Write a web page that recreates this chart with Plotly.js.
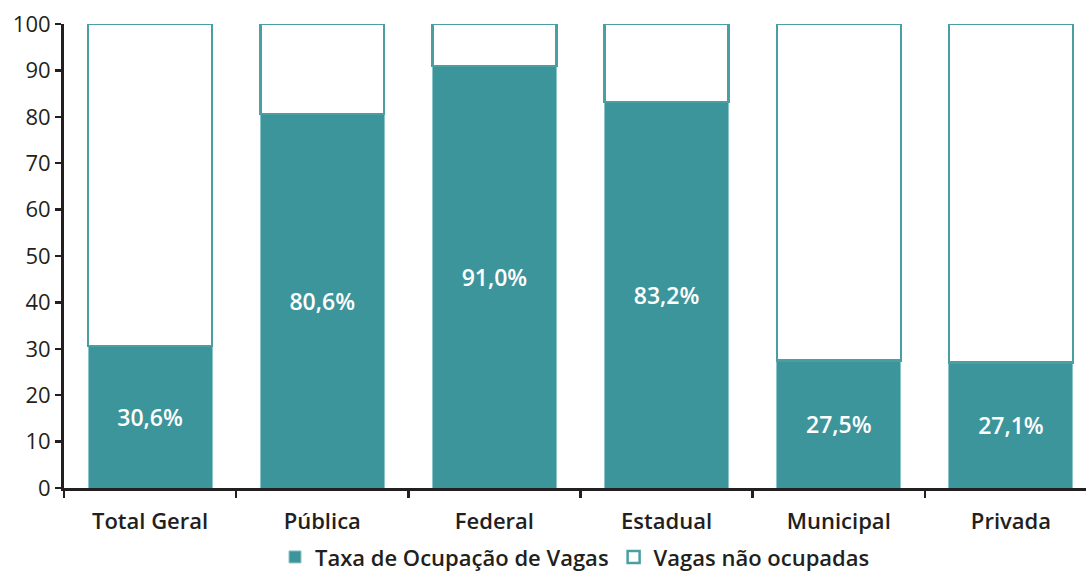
<!DOCTYPE html>
<html>
<head>
<meta charset="utf-8">
<script src="https://cdn.plot.ly/plotly-3.0.1.min.js"></script>
<style>html,body{margin:0;padding:0;background:#fff;}#chart{width:1086px;height:571px;}</style>
</head>
<body>
<div id="chart"></div>
<script>
var categories = ["Total Geral", "Pública", "Federal", "Estadual", "Municipal", "Privada"];
var ocupacao = [30.6, 80.6, 91.0, 83.2, 27.5, 27.1];
var naoOcupadas = ocupacao.map(function(v){ return Math.round((100 - v) * 10) / 10; });
var labels = ocupacao.map(function(v){ return v.toFixed(1).replace('.', ',') + '%'; });

var teal = '#3d959c';
var fontFam = '"Open Sans", Lato, sans-serif';

var traces = [
  {
    type: 'bar', name: 'Taxa de Ocupação de Vagas', x: categories, y: ocupacao,
    width: 0.72,
    marker: {color: teal, line: {color: '#8cc5c9', width: 1}},
    text: labels, textposition: 'inside', insidetextanchor: 'middle',
    textfont: {color: '#ffffff', size: 23, family: fontFam, weight: 600},
    hoverinfo: 'skip'
  },
  {
    type: 'bar', name: 'Vagas não ocupadas', x: categories, y: naoOcupadas,
    width: 0.72,
    marker: {color: '#ffffff', line: {color: '#4a9fa5', width: 2.5}},
    hoverinfo: 'skip'
  }
];

var layout = {
  width: 1086, height: 571,
  margin: {l: 64, r: 0, t: 24, b: 83, autoexpand: false},
  barmode: 'stack',
  paper_bgcolor: '#ffffff', plot_bgcolor: '#ffffff',
  font: {family: fontFam, color: '#231f20'},
  showlegend: true,
  legend: {
    orientation: 'h', x: 0.5, xanchor: 'center', y: -0.149, yanchor: 'middle',
    font: {size: 22, family: fontFam, color: '#231f20', weight: 600},
    traceorder: 'normal', itemwidth: 20
  },
  xaxis: {
    type: 'category', automargin: false,
    range: [-0.5, 5.436],
    showline: true, linecolor: '#231f20', linewidth: 3,
    ticks: 'outside', tickson: 'boundaries', ticklen: 7, tickwidth: 2.5, tickcolor: '#231f20',
    ticklabelstandoff: 12,
    tickfont: {size: 22, family: fontFam, color: '#231f20', weight: 600},
    showgrid: false, zeroline: false, fixedrange: true
  },
  yaxis: {
    range: [0, 100], dtick: 10, tick0: 0, automargin: false,
    showline: true, linecolor: '#231f20', linewidth: 3,
    ticks: 'outside', ticklen: 6, tickwidth: 2.5, tickcolor: '#231f20',
    tickfont: {size: 22, family: fontFam, color: '#231f20'},
    showgrid: false, zeroline: false, fixedrange: true
  }
};

Plotly.newPlot('chart', traces, layout, {displayModeBar: false, staticPlot: true});
</script>
</body>
</html>
